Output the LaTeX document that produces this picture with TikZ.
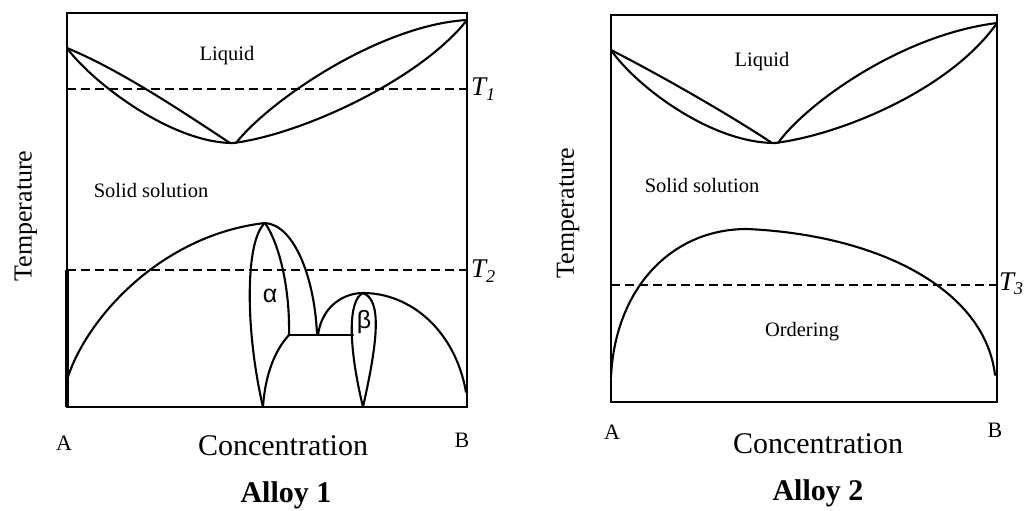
\documentclass[tikz,border=0pt]{standalone}
\usepackage{fontspec}
\setmainfont{Liberation Serif}
\newfontfamily\greekfont{Liberation Sans}
\begin{document}
\begin{tikzpicture}[x=1pt,y=-1pt,
  curve/.style={line width=2.1pt, line join=round, line cap=round},
  frame/.style={line width=2.4pt, line join=miter},
  tline/.style={line width=1.9pt, dash pattern=on 9pt off 5pt},
  lab/.style={font=\fontsize{20.5}{22}\selectfont, inner sep=0pt},
  axislab/.style={font=\fontsize{30}{32}\selectfont, inner sep=0pt},
  templab/.style={font=\fontsize{26}{28}\selectfont, inner sep=0pt, rotate=90},
  ablab/.style={font=\fontsize{22}{24}\selectfont, inner sep=0pt},
  title/.style={font=\bfseries\fontsize{30}{32}\selectfont, inner sep=0pt},
  tlab/.style={font=\itshape\fontsize{27}{28}\selectfont, inner sep=0pt, anchor=west},
  greek/.style={font=\greekfont\fontsize{25}{27}\selectfont, inner sep=0pt}
]
\useasboundingbox (0,0) rectangle (1026,511);

% ================= Alloy 1 =================
\draw[frame] (67,13) rectangle (467,407);
\draw[line width=3.6pt] (67,270) -- (67,407);
% liquidus / solidus
\draw[curve] (67,48) .. controls (120,70) and (180,110) .. (230,143);
\draw[curve] (67,48) .. controls (90,80) and (170,143) .. (233,143);
\draw[curve] (236,143) .. controls (270,100) and (380,25) .. (467,20);
\draw[curve] (233,143) .. controls (300,135) and (420,80) .. (467,20);
% T1
\draw[tline] (67,89) -- (467,89);
\node[tlab] (t1) at (471,89) {T\raisebox{-0.35ex}{\fontsize{18}{20}\selectfont 1}};
% big left dome
\draw[curve] (67,380) .. controls (85,320) and (160,235) .. (265,223);
% alpha teardrop
\draw[curve] (265,223) .. controls (245,240) and (245,330) .. (263,407);
\draw[curve] (265,223) .. controls (280,245) and (290,290) .. (289,335);
\draw[curve] (265,223) .. controls (295,225) and (315,280) .. (317,335);
\draw[curve] (263,407) .. controls (265,375) and (275,350) .. (289,335);
\draw[curve] (289,335) -- (353,335);
% right dome
\draw[curve] (318,335) .. controls (322,305) and (345,293) .. (363,293);
\draw[curve] (363,293) .. controls (410,293) and (455,330) .. (466,392);
% beta teardrop
\draw[curve] (363,293) .. controls (348,300) and (348,345) .. (363,407);
\draw[curve] (363,293) .. controls (382,300) and (378,340) .. (363,407);
% T2
\draw[tline] (67,270) -- (467,270);
\node[tlab] (t2) at (471,271) {T\raisebox{-0.35ex}{\fontsize{18}{20}\selectfont 2}};
% labels
\node[lab] (liq1) at (227,56) {Liquid};
\node[lab] (ss1) at (151,190) {Solid solution};
\node[greek] (alpha) at (270,296) {α};
\node[greek] (beta) at (364,322) {β};
\node[templab] (temp1) at (26,216) {Temperature};
\node[ablab] (a1) at (64,443) {A};
\node[ablab] (b1) at (462,440) {B};
\node[axislab] (conc1) at (283,446) {Concentration};
\node[title] (alloy1) at (286,495) {Alloy 1};

% ================= Alloy 2 =================
\draw[frame, line width=2pt] (611,15) rectangle (997,402);
\draw[curve] (611,50) .. controls (660,75) and (730,115) .. (772,143);
\draw[curve] (611,50) .. controls (635,85) and (710,143) .. (775,143);
\draw[curve] (778,143) .. controls (805,105) and (900,35) .. (997,23);
\draw[curve] (775,143) .. controls (840,135) and (950,90) .. (997,23);
% ordering dome
\draw[curve] (611,377) .. controls (615,290) and (670,229) .. (747,229);
\draw[curve] (747,229) .. controls (880,235) and (985,290) .. (995,375);
% T3
\draw[tline] (611,285) -- (997,285);
\node[tlab] (t3) at (999,284) {T\raisebox{-0.35ex}{\fontsize{18}{20}\selectfont 3}};
% labels
\node[lab] (liq2) at (762,62) {Liquid};
\node[lab] (ss2) at (702,185) {Solid solution};
\node[lab] (ord) at (802,332) {Ordering};
\node[templab] (temp2) at (568,213) {Temperature};
\node[ablab] (a2) at (612,432) {A};
\node[ablab] (b2) at (995,430) {B};
\node[axislab] (conc2) at (818,444) {Concentration};
\node[title] (alloy2) at (818,493) {Alloy 2};
\end{tikzpicture}
\end{document}
